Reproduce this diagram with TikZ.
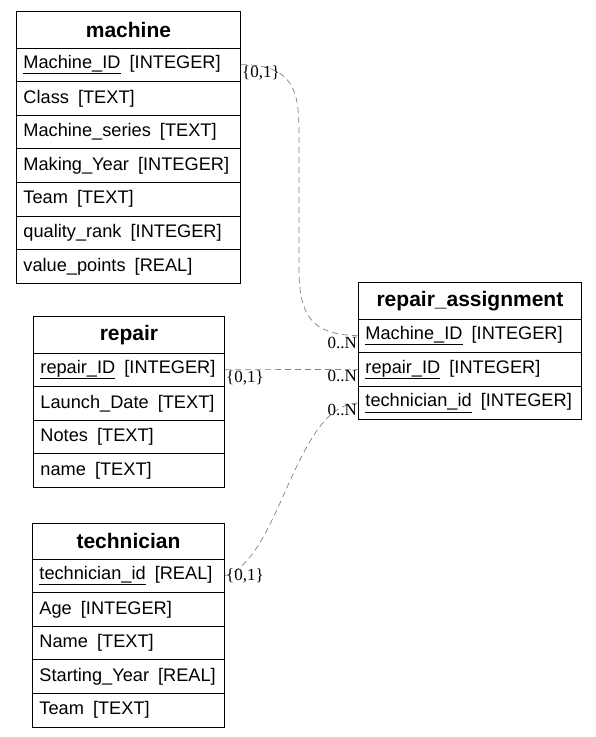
\documentclass[tikz,border=0pt]{standalone}
\usepackage{fontspec}
\setmainfont{Liberation Sans}
\newfontfamily\cardfont{Liberation Serif}
\usetikzlibrary{positioning,chains}
\newcommand{\colgap}{\hskip 0.5em}

\begin{document}
\begin{tikzpicture}[x=1pt, y=-1pt, node distance=-0.9pt,
	cell/.style={draw, line width=0.9pt, on chain, minimum height=33.6pt, inner xsep=7pt, inner ysep=0pt, align=left, font=\fontsize{18.2}{20}\selectfont},
	head/.style={cell, align=center, minimum height=36.5pt, font=\fontsize{21}{24}\selectfont\bfseries},
	link/.style={draw=gray, line width=0.7pt, dash pattern=on 6pt off 4pt},
	card/.style={font=\fontsize{17}{20}\cardfont, inner sep=1pt}]
	\useasboundingbox (0,0) rectangle (596,737);

	\begin{scope}[start chain=machine going below, text width=210pt]
	\node (machine) [head, anchor=north west] at (16,11) {machine};
	\node (machID) [cell] {\mbox{\underline{Machine\_ID}\colgap[INTEGER]}};
	\node (machClass) [cell] {\mbox{Class\colgap[TEXT]}};
	\node (machSeries) [cell] {\mbox{Machine\_series\colgap[TEXT]}};
	\node (machYear) [cell] {\mbox{Making\_Year\colgap[INTEGER]}};
	\node (machTeam) [cell] {\mbox{Team\colgap[TEXT]}};
	\node (machRank) [cell] {\mbox{quality\_rank\colgap[INTEGER]}};
	\node (machPoints) [cell] {\mbox{value\_points\colgap[REAL]}};
	\end{scope}

	\begin{scope}[start chain=repair going below, text width=177pt]
	\node (repair) [head, anchor=north west] at (33,316) {repair};
	\node (repID) [cell] {\mbox{\underline{repair\_ID}\colgap[INTEGER]}};
	\node (repDate) [cell] {\mbox{Launch\_Date\colgap[TEXT]}};
	\node (repNotes) [cell] {\mbox{Notes\colgap[TEXT]}};
	\node (repName) [cell] {\mbox{name\colgap[TEXT]}};
	\end{scope}

	\begin{scope}[start chain=technician going below, text width=178pt]
	\node (technician) [head, anchor=north west, minimum height=35.5pt] at (32,523) {technician};
	\node (techID) [cell] {\mbox{\underline{technician\_id}\colgap[REAL]}};
	\node (techAge) [cell] {\mbox{Age\colgap[INTEGER]}};
	\node (techName) [cell] {\mbox{Name\colgap[TEXT]}};
	\node (techStart) [cell] {\mbox{Starting\_Year\colgap[REAL]}};
	\node (techTeam) [cell] {\mbox{Team\colgap[TEXT]}};
	\end{scope}

	\begin{scope}[start chain=assign going below, text width=209pt]
	\node (assign) [head, anchor=north west] at (358,282) {repair\_assignment};
	\node (raMach) [cell] {\mbox{\underline{Machine\_ID}\colgap[INTEGER]}};
	\node (raRep) [cell] {\mbox{\underline{repair\_ID}\colgap[INTEGER]}};
	\node (raTech) [cell] {\mbox{\underline{technician\_id}\colgap[INTEGER]}};
	\end{scope}

	% links, {0,1} side at the key, 0..N side at repair_assignment
	\draw[link] (machID.east) .. controls (300,64) and (299,100) .. (299,140) -- (299,270) .. controls (299,325) and (320,334) .. (raMach.west);
	\draw[link] (repID.east) -- (raRep.west);
	\draw[link] (techID.east) .. controls (280,560) and (295,405) .. (raTech.west);

	\node (cardM) [card, anchor=north west] at (machID.east) {\{0,1\}};
	\node (cardMa) [card, anchor=north east] at (raMach.west) {0..N};
	\node (cardR) [card, anchor=north west] at (repID.east) {\{0,1\}};
	\node (cardRa) [card, anchor=north east] at (raRep.west) {0..N};
	\node (cardT) [card, anchor=west] at (techID.east) {\{0,1\}};
	\node (cardTa) [card, anchor=north east] at (raTech.west) {0..N};
\end{tikzpicture}
\end{document}
